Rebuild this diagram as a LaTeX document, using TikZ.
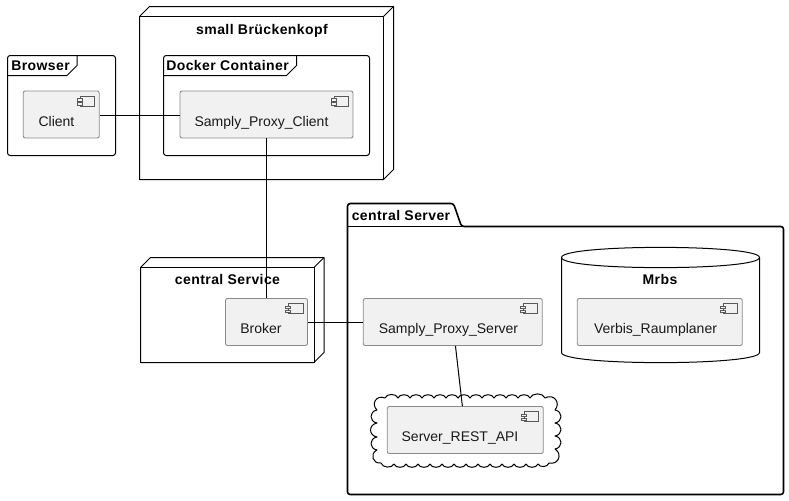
\documentclass[tikz,border=0pt]{standalone}
\usepackage{fontspec}
\setmainfont{Liberation Sans}
\newfontfamily\ttlfont[LetterSpace=3]{Liberation Sans Bold}
\usetikzlibrary{calc}
\definecolor{compfill}{HTML}{F1F1F1}
\definecolor{compline}{HTML}{8A8A8A}
\tikzset{
  x=0.75pt,y=-0.75pt,
  comp/.style={draw=compline,fill=compfill,line width=0.65pt,rounded corners=1.5pt,minimum width=#1*0.75pt,minimum height=35.25pt,inner sep=0pt},
  ctext/.style={font=\fontsize{10.5pt}{12pt}\selectfont,inner sep=0pt,anchor=base,text=black!90},
  ttl/.style={font=\fontsize{10.5pt}{12pt}\ttlfont,inner sep=0pt,anchor=base},
  ttlw/.style={ttl,anchor=base west},
  box/.style={draw=black,line width=0.75pt,line join=round},
  frm/.style={draw=black,line width=0.75pt,rounded corners=2pt},
  pkg/.style={draw=black,line width=1.2pt,rounded corners=2pt},
  conn/.style={draw=black,line width=0.75pt},
  icon/.style={draw=black!65,line width=0.45pt,fill=compfill},
  bump/.style={bend left=70},
  sbump/.style={bend left=80,looseness=1.6},
}
\newcommand{\compicon}[1]{%
  \begin{scope}[shift={(#1.north east)}]
    \draw[icon] (-19.5,5.7) rectangle (-5,15.7);
    \draw[icon] (-22.5,8) rectangle (-17.5,10.5);
    \draw[icon] (-22.5,12) rectangle (-17.5,14.5);
  \end{scope}}
\newcommand{\nodebox}[4]{%
  \draw[box] (#1,#2) -- (#1+10,#2-10) -- (#3+10,#2-10) -- (#3+10,#4-10) -- (#3,#4) -- (#1,#4) -- cycle;
  \draw[box] (#1,#2) -- (#3,#2) -- (#3,#4);
  \draw[box] (#3,#2) -- (#3+10,#2-10);}
\begin{document}
\begin{tikzpicture}
\useasboundingbox[fill=white] (0,0) rectangle (789,500);

% small Brueckenkopf
\nodebox{139.5}{16.5}{383.5}{179.5}
\node[ttl] (bk) at (262,34) {small Brückenkopf};

% Browser frame
\draw[frm] (7.5,55.5) rectangle (115.5,155.5);
\draw[box] (7.5,75.5) -- (67,75.5) -- (77,65.5) -- (77,55.5);
\node[ttlw] (br) at (11,70.7) {Browser};

% Docker frame
\draw[frm] (163.5,55.5) rectangle (369.5,155.5);
\draw[box] (163.5,75.5) -- (286.5,75.5) -- (296.5,65.5) -- (296.5,55.5);
\node[ttlw] (dk) at (166,70.7) {Docker Container};

% central Service
\nodebox{140.5}{267.5}{314}{362.5}
\node[ttl] (cs) at (227.5,284.3) {central Service};

% central Server package
\draw[pkg] (347.5,226.5) -- (347.5,203.5) -- (453.5,203.5) -- (461.5,226.5) -- (783.5,226.5) -- (783.5,494.5) -- (347.5,494.5) -- cycle;
\draw[pkg,rounded corners=0pt] (347.5,226.5) -- (461.5,226.5);
\node[ttlw] (srvt) at (351.5,220) {central Server};

% Mrbs database
\draw[box,fill=white] (561.5,257.5) .. controls (561.5,244) and (759.5,244) .. (759.5,257.5)
  -- (759.5,352.5) .. controls (759.5,366) and (561.5,366) .. (561.5,352.5) -- cycle;
\draw[box] (561.5,257.5) .. controls (561.5,271) and (759.5,271) .. (759.5,257.5);
\node[ttl] (mrbs) at (660,284) {Mrbs};

% cloud
\draw[box,fill=white] (377,410)
  to[sbump] (385,398) to[bump] (398,398) to[bump] (410,398)
  to[bump] (422,398) to[bump] (434,398) to[bump] (446,398)
  to[bump] (458,398) to[bump] (470,398) to[bump] (482,398)
  to[bump] (494,398) to[bump] (506,398) to[bump] (518,398)
  to[bump] (530,398) to[bump] (545,398) to[sbump] (555,410)
  to[sbump] (555,423) to[sbump] (555,436) to[sbump] (555,449)
  to[sbump] (549,463) to[bump] (538,464) to[bump] (526,464)
  to[bump] (514,464) to[bump] (502,464) to[bump] (490,464)
  to[bump] (478,464) to[bump] (466,464) to[bump] (454,464)
  to[bump] (442,464) to[bump] (430,464) to[bump] (418,464)
  to[bump] (406,464) to[bump] (394,464) to[bump] (381,463)
  to[sbump] (377,450) to[sbump] (377,437) to[sbump] (377,423)
  to[sbump] (377,410) -- cycle;

% components
\node[comp=76]  (client) at (61.25,114.5) {};
\node[comp=173] (spc)    at (266.5,114.5) {};
\node[comp=82]  (broker) at (266.5,322) {};
\node[comp=179] (sps)    at (452.8,322) {};
\node[comp=165] (verbis) at (659.8,322) {};
\node[comp=156] (rest)   at (465.3,430) {};
\foreach \n in {client,spc,broker,sps,verbis,rest} {\compicon{\n}}

\node[ctext] (tclient) at (56.5,126) {Client};
\node[ctext] (tspc)    at (261.5,126) {Samply\_Proxy\_Client};
\node[ctext] (tbroker) at (261,333.2) {Broker};
\node[ctext] (tsps)    at (448.5,333.2) {Samply\_Proxy\_Server};
\node[ctext] (tverbis) at (655.5,333.2) {Verbis\_Raumplaner};
\node[ctext] (trest)   at (460,441) {Server\_REST\_API};

% connectors
\draw[conn] ([yshift=-0.75pt]client.east) -- ([yshift=-0.75pt]spc.west);
\draw[conn] (spc.south) -- (broker.north);
\draw[conn] ([yshift=-0.375pt]broker.east) -- ([yshift=-0.375pt]sps.west);
\draw[conn] ([xshift=2pt]sps.south) -- ([xshift=-2.2pt]rest.north);
\end{tikzpicture}
\end{document}
